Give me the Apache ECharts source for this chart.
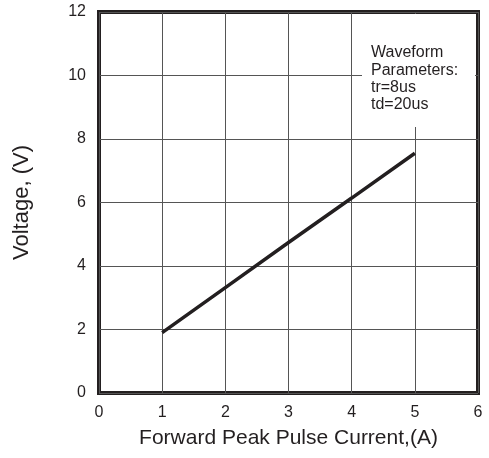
<!DOCTYPE html>
<html><head><meta charset="utf-8">
<script src="https://cdn.jsdelivr.net/npm/echarts@6/dist/echarts.min.js"></script>
<style>html,body{margin:0;padding:0;background:#fff}#c{width:489px;height:458px}</style>
</head><body><div id="c"></div>
<script>
const currentA = [1, 2, 3, 4, 5];
const voltageV = [1.9, 3.32, 4.74, 6.14, 7.55];
const xTicks = [0, 1, 2, 3, 4, 5, 6];
const yTicks = [0, 2, 4, 6, 8, 10, 12];
const noteLines = ['Waveform', 'Parameters:', 'tr=8us', 'td=20us'];

const chart = echarts.init(document.getElementById('c'));
const font = 'Liberation Sans, Arial, sans-serif';
chart.setOption({
  animation: false,
  grid: { left: 99, right: 11, top: 12, bottom: 65, show: true, borderColor: '#231f20', borderWidth: 4, backgroundColor: 'transparent' },
  graphic: [
    { type: 'rect', shape: { x: 362, y: 14, width: 113, height: 113 }, style: { fill: '#fff' }, z: 50 },
    { type: 'text', x: 371, y: 44, z: 51,
      style: { text: noteLines.join('\n'), font: '16px ' + font, fill: '#231f20', lineHeight: 17.4 } }
  ],
  xAxis: {
    type: 'value', min: xTicks[0], max: xTicks[xTicks.length - 1], interval: 1,
    name: 'Forward Peak Pulse Current,(A)', nameLocation: 'middle', nameGap: 35,
    nameTextStyle: { fontFamily: font, fontSize: 21, color: '#231f20' },
    axisLine: { show: false }, axisTick: { show: false },
    axisLabel: { fontFamily: font, fontSize: 16, color: '#231f20', margin: 12 },
    splitLine: { show: true, lineStyle: { color: '#555', width: 1 } }
  },
  yAxis: {
    type: 'value', min: yTicks[0], max: yTicks[yTicks.length - 1], interval: 2,
    name: 'Voltage, (V)', nameLocation: 'middle', nameGap: 66,
    nameTextStyle: { fontFamily: font, fontSize: 22, color: '#231f20' },
    axisLine: { show: false }, axisTick: { show: false },
    axisLabel: { fontFamily: font, fontSize: 16, color: '#231f20', margin: 13 },
    splitLine: { show: true, lineStyle: { color: '#555', width: 1 } }
  },
  series: [{
    type: 'line', data: currentA.map((x, i) => [x, voltageV[i]]),
    symbol: 'none', lineStyle: { color: '#231f20', width: 3.5 }, z: 2
  }]
});
</script></body></html>
